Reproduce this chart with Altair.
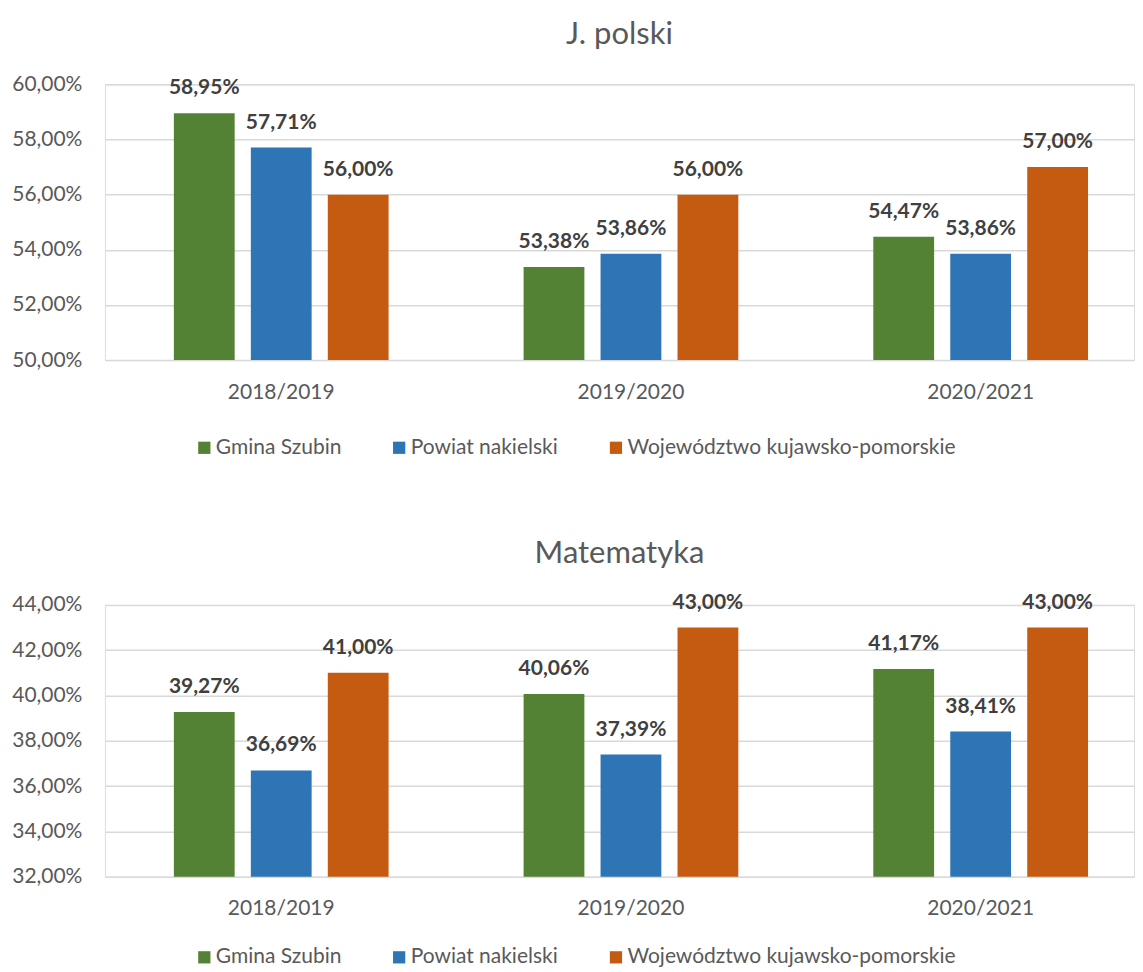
import altair as alt
import pandas as pd

categories = ["2018/2019", "2019/2020", "2020/2021"]
series = ["Gmina Szubin", "Powiat nakielski", "Województwo kujawsko-pomorskie"]
colors = ["#548235", "#2E75B6", "#C55A11"]

polski_gmina = [58.95, 53.38, 54.47]
polski_powiat = [57.71, 53.86, 53.86]
polski_woj = [56.00, 56.00, 57.00]

mat_gmina = [39.27, 40.06, 41.17]
mat_powiat = [36.69, 37.39, 38.41]
mat_woj = [41.00, 43.00, 43.00]

polski_ticks = [0.50, 0.52, 0.54, 0.56, 0.58, 0.60]
mat_ticks = [0.32, 0.34, 0.36, 0.38, 0.40, 0.42, 0.44]

FONT = "Lato"
GREY = "#595959"


def build_df(g, p, w):
    rows = []
    for s, vals in zip(series, [g, p, w]):
        for c, v in zip(categories, vals):
            rows.append({"kat": c, "seria": s, "wartosc": v / 100.0})
    return pd.DataFrame(rows)


def panel(title, df, ticks, height, legend_y):
    lo, hi = ticks[0], ticks[-1]
    x = alt.X("kat:N", sort=categories, title=None,
              scale=alt.Scale(paddingInner=0.386, paddingOuter=0.1643, align=0.6),
              axis=alt.Axis(labelAngle=0, labelFontSize=21, labelColor=GREY,
                            labelFont=FONT, ticks=False, domain=False,
                            labelPadding=21, grid=False))
    xo = alt.XOffset("seria:N", sort=series,
                     scale=alt.Scale(paddingInner=0.21, paddingOuter=0))
    y = alt.Y("wartosc:Q", title=None,
              scale=alt.Scale(domain=[lo, hi], nice=False, zero=False),
              axis=alt.Axis(values=ticks, labelFontSize=21, labelColor=GREY,
                            labelFont=FONT, ticks=False, domain=False,
                            labelPadding=23, gridColor="#D9D9D9", gridWidth=1.5,
                            labelExpr="replace(format(datum.value, '.2%'), '.', ',')"))
    color = alt.Color("seria:N", sort=series, title=None,
                      scale=alt.Scale(domain=series, range=colors),
                      legend=alt.Legend(orient="none", direction="horizontal",
                                        legendX=89, legendY=legend_y,
                                        symbolType="square", symbolSize=150,
                                        symbolStrokeWidth=0, symbolOpacity=1,
                                        labelFontSize=21, labelColor=GREY,
                                        labelFont=FONT, labelOffset=1,
                                        columnPadding=47, labelLimit=400))
    base = alt.Chart(df).encode(x=x, xOffset=xo, y=y)
    bars = base.mark_bar(clip=True, opacity=1).encode(color=color)
    labels = base.transform_calculate(
        lbl="replace(format(datum.wartosc, '.2%'), '.', ',')"
    ).mark_text(fontSize=21, fontWeight="bold", color="#404040", font=FONT,
                baseline="middle", dy=-25).encode(text="lbl:N")
    return alt.layer(bars, labels).properties(
        width=1030, height=height,
        title=alt.TitleParams(title, fontSize=31, font=FONT, color=GREY,
                              fontWeight="normal", anchor="middle", offset=22),
    )


top = panel("J. polski", build_df(polski_gmina, polski_powiat, polski_woj),
            polski_ticks, 276, 353)
bottom = panel("Matematyka", build_df(mat_gmina, mat_powiat, mat_woj),
               mat_ticks, 272, 342)

chart = alt.vconcat(top, bottom, spacing=78).resolve_scale(
    color="independent", x="independent", y="independent", xOffset="independent"
).resolve_legend(color="independent").properties(
    padding={"left": 3, "top": 10, "right": 0, "bottom": 0}
).configure_view(stroke=None).configure(font=FONT)

chart.save("out.html", embed_options={"renderer": "svg", "actions": False})
